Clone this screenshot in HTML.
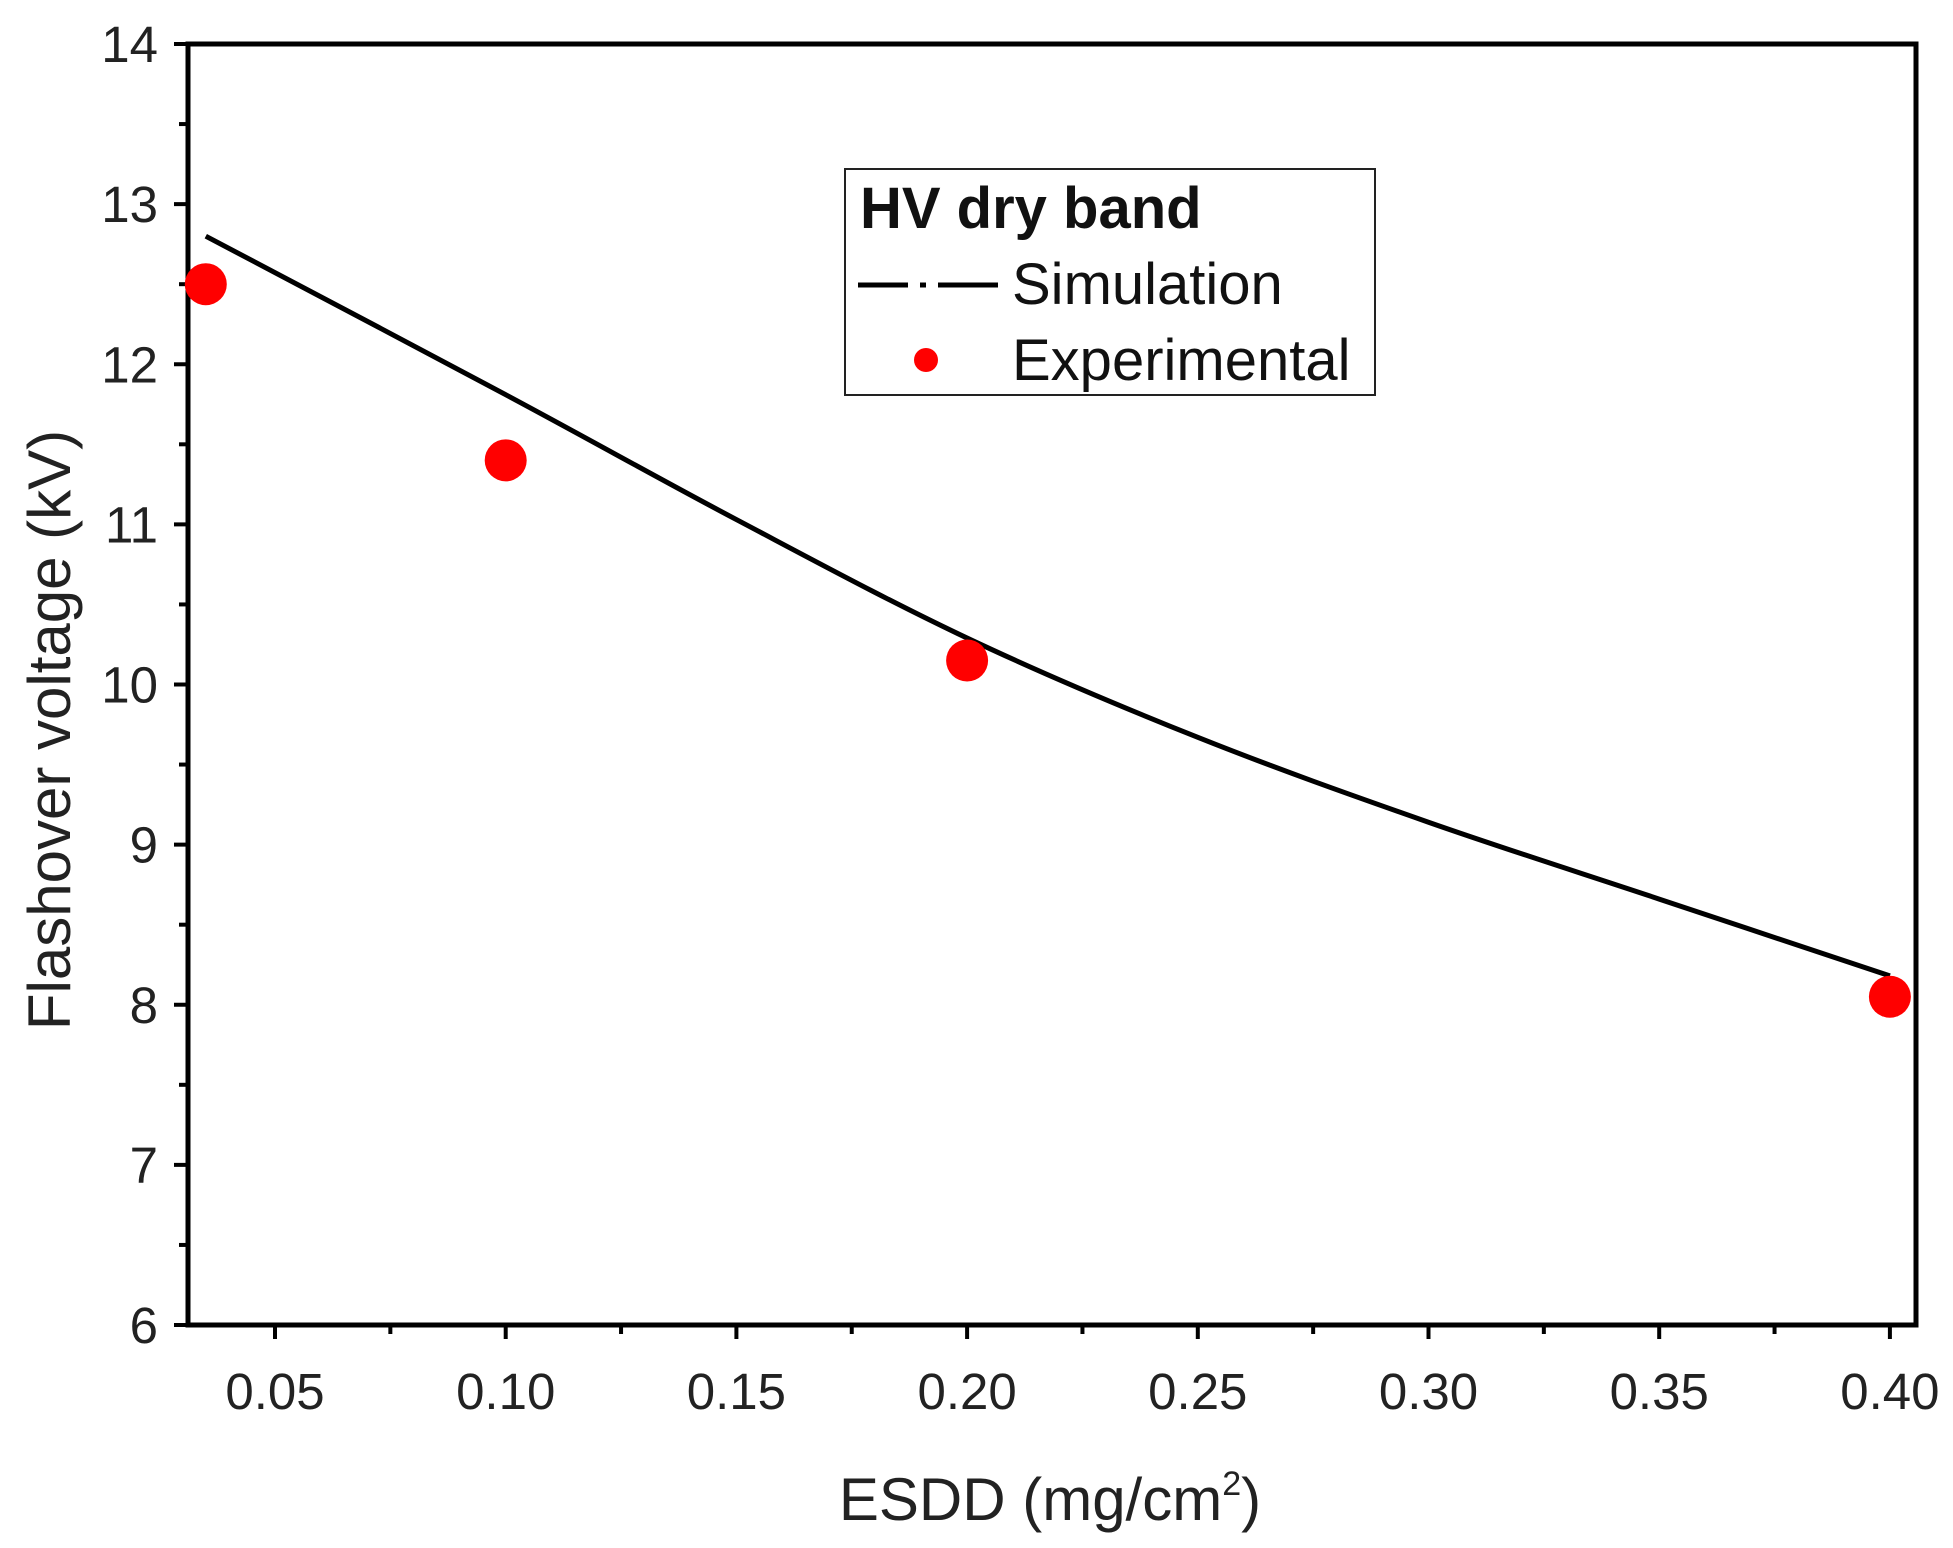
<!DOCTYPE html>
<html><head><meta charset="utf-8"><style>
html,body{margin:0;padding:0;background:#fff;}
svg{display:block;font-family:"Liberation Sans",Arial,sans-serif;}
</style></head><body>
<svg id="chart" width="1953" height="1548" viewBox="0 0 1953 1548">
<g id="axes"></g>
<g id="series"></g>
<g>
<rect x="845" y="169" width="530" height="226" fill="#fff" stroke="#222" stroke-width="2"/>
<text x="860" y="228" font-size="58" font-weight="bold" fill="#111">HV dry band</text>
<g>
<line x1="858" y1="285" x2="998" y2="285" stroke="#000" stroke-width="5" stroke-dasharray="50,12,6,12,60"/>
<text x="1012" y="304" font-size="58" fill="#111">Simulation</text>
</g>
<g>
<circle cx="926" cy="360" r="12" fill="#f00"/>
<text x="1012" y="380" font-size="58" fill="#111">Experimental</text>
</g>
</g>
<text x="0" y="0" transform="translate(70,730) rotate(-90)" text-anchor="middle" font-size="60" fill="#222">Flashover voltage (kV)</text>
<text x="1050" y="1520" text-anchor="middle" font-size="60" fill="#222">ESDD (mg/cm<tspan dy="-25" font-size="34">2</tspan><tspan dy="25">)</tspan></text>
</svg>
<script>
const xTicks=[0.05,0.10,0.15,0.20,0.25,0.30,0.35,0.40];
const xTickLabels=["0.05","0.10","0.15","0.20","0.25","0.30","0.35","0.40"];
const yTicks=[6,7,8,9,10,11,12,13,14];
const yTickLabels=["6","7","8","9","10","11","12","13","14"];
const simX=[0.035,0.1,0.15,0.2,0.25,0.3,0.35,0.4];
const simY=[12.8,11.81,11.03,10.29,9.67,9.14,8.66,8.18];
const expX=[0.035,0.1,0.2,0.4];
const expY=[12.5,11.4,10.15,8.05];

const L=188,R=1916,T=44,B=1325;
function xs(v){return 275+(v-0.05)/0.05*230.7;}
function ys(v){return B-(v-6)*(B-T)/8;}
const NS="http://www.w3.org/2000/svg";
function mk(tag,attrs,parent){const e=document.createElementNS(NS,tag);for(const k in attrs)e.setAttribute(k,attrs[k]);parent.appendChild(e);return e;}
const axes=document.getElementById('axes');
const frame=mk('rect',{x:L,y:T,width:R-L,height:B-T,fill:'none',stroke:'#000','stroke-width':5},axes);


xTicks.forEach((v,i)=>{
  const x=xs(v);
  const t=mk('line',{x1:x,y1:B,x2:x,y2:B+14,stroke:'#000','stroke-width':4},axes);
  
  
  const m=mk('line',{x1:xs(v+0.025),y1:B,x2:xs(v+0.025),y2:B+9,stroke:'#000','stroke-width':4},axes);
  
  
  const lb=mk('text',{x:x,y:B+84,'text-anchor':'middle','font-size':51,fill:'#222'},axes);
  lb.textContent=xTickLabels[i];
  
  
});
yTicks.forEach((v,i)=>{
  const y=ys(v);
  const t=mk('line',{x1:L-14,y1:y,x2:L,y2:y,stroke:'#000','stroke-width':4},axes);
  
  
  if(v<14){const m=mk('line',{x1:L-9,y1:ys(v+0.5),x2:L,y2:ys(v+0.5),stroke:'#000','stroke-width':4},axes);
  
  }
  const lb=mk('text',{x:L-30,y:y+18,'text-anchor':'end','font-size':51,fill:'#222'},axes);
  lb.textContent=yTickLabels[i];
  
  
});
const series=document.getElementById('series');
const P=simX.map((v,i)=>[xs(v),ys(simY[i])]);
let d='M'+P[0][0]+','+P[0][1];
for(let i=0;i<P.length-1;i++){
  const p0=P[Math.max(i-1,0)],p1=P[i],p2=P[i+1],p3=P[Math.min(i+2,P.length-1)];
  const c1=[p1[0]+(p2[0]-p0[0])/6,p1[1]+(p2[1]-p0[1])/6];
  const c2=[p2[0]-(p3[0]-p1[0])/6,p2[1]-(p3[1]-p1[1])/6];
  d+=' C'+c1+' '+c2+' '+p2;
}
const line=mk('path',{d:d,fill:'none',stroke:'#000','stroke-width':5},series);


expX.forEach((v,i)=>{
  const c=mk('circle',{cx:xs(v),cy:ys(expY[i]),r:21,fill:'#f00'},series);
  
  
});
</script>
</body></html>
